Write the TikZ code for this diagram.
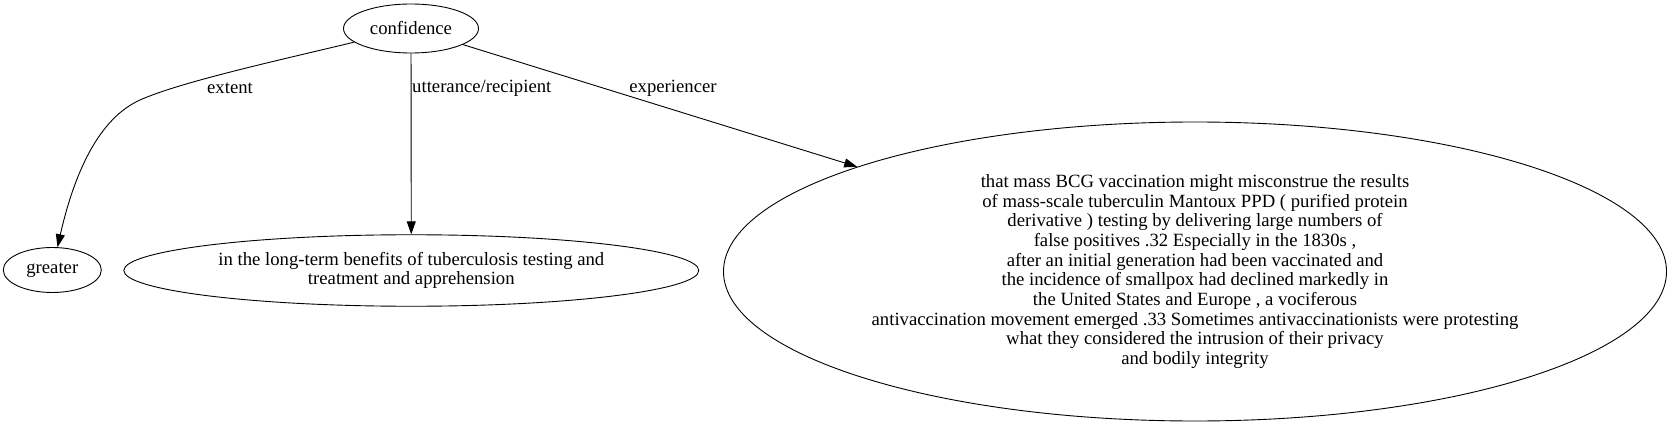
\documentclass[tikz,border=0pt]{standalone}
\usepackage{fontspec}
\setmainfont{Liberation Serif}
\usetikzlibrary{arrows.meta,shapes.geometric}
\begin{document}
\begin{tikzpicture}[x=1pt,y=-1pt,
  every node/.style={font=\fontsize{18.7}{19.7}\selectfont},
  nd/.style={draw,ellipse,inner sep=0pt,line width=0.9pt,align=center},
  edge/.style={line width=0.9pt,-{Triangle[length=13pt,width=9pt]}},
  lbl/.style={inner sep=0pt}]
\useasboundingbox (0,0) rectangle (1673,425);
\node[nd,minimum width=135pt,minimum height=49pt] (conf) at (411,28.5) {confidence};
\node[nd,minimum width=98pt,minimum height=45pt] (greater) at (52.3,270) {greater};
\node[nd,minimum width=575pt,minimum height=71.5pt] (long) at (411.3,270.5) {in the long-term benefits of tuberculosis testing and\\treatment and apprehension};
\node[nd,minimum width=943pt,minimum height=299pt] (big) at (1195,271.5) {that mass BCG vaccination might misconstrue the results\\of mass-scale tuberculin Mantoux PPD ( purified protein\\derivative ) testing by delivering large numbers of\\false positives .32 Especially in the 1830s ,\\after an initial generation had been vaccinated and\\the incidence of smallpox had declined markedly in\\the United States and Europe , a vociferous\\antivaccination movement emerged .33 Sometimes antivaccinationists were protesting\\what they considered the intrusion of their privacy\\and bodily integrity};
\coordinate (bend) at (140,100);
\draw[edge] (conf) .. controls (280,60) and (180,82) .. (bend) .. controls (100,118) and (75,170) .. (greater);
\draw[edge] (conf) -- (long);
\draw[edge] (conf) -- (big);
\node[lbl] (l1) at (230,88) {extent};
\node[lbl,anchor=west] (l2) at (412,88) {utterance/recipient};
\node[lbl] (l3) at (673,88) {experiencer};
\end{tikzpicture}
\end{document}
